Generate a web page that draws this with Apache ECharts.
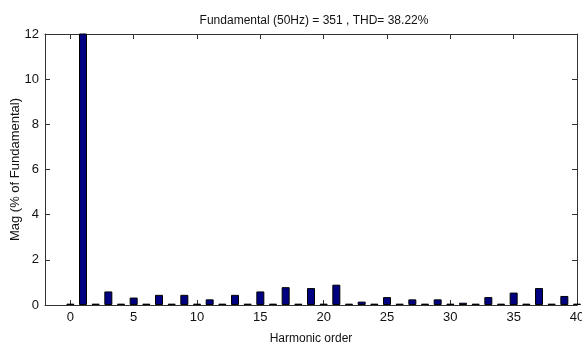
<!DOCTYPE html>
<html>
<head>
<meta charset="utf-8">
<script src="https://cdn.jsdelivr.net/npm/echarts@6/dist/echarts.min.js"></script>
<style>
  html, body { margin: 0; padding: 0; background: #fff; }
  #chart { width: 582px; height: 350px; }
</style>
</head>
<body>
<div id="chart"></div>
<script>
// Harmonic spectrum, magnitude as % of the fundamental (order 1 = 100%)
const harmonicOrders = [0,1,2,3,4,5,6,7,8,9,10,11,12,13,14,15,16,17,18,19,20,
                        21,22,23,24,25,26,27,28,29,30,31,32,33,34,35,36,37,38,39,40];
const magnitudes = [0.06,100,0.06,0.6,0.06,0.33,0.06,0.45,0.06,0.45,0.06,0.25,0.06,0.45,0.06,0.6,
                    0.06,0.79,0.06,0.75,0.06,0.9,0.06,0.15,0.06,0.35,0.06,0.25,0.06,0.25,0.06,
                    0.1,0.06,0.35,0.06,0.55,0.06,0.75,0.06,0.4,0.06];
const xTicks = [0,5,10,15,20,25,30,35,40];
const yTicks = [0,2,4,6,8,10,12];

const titleText = 'Fundamental (50Hz) = 351 , THD= 38.22%';
const xName = 'Harmonic order';
const yName = 'Mag (% of Fundamental)';

const narrow = '"Liberation Sans Narrow", "Liberation Sans", Arial, sans-serif';
const axisColor = '#333';

const chart = echarts.init(document.getElementById('chart'), null, { renderer: 'canvas' });

const tickStyle = { inside: true, length: 5, lineStyle: { color: axisColor, width: 1 } };
const lineStyle = { show: true, onZero: false, lineStyle: { color: axisColor, width: 1 } };

chart.setOption({
  animation: false,
  backgroundColor: '#fff',
  title: {
    text: titleText,
    left: 309, top: 10, textAlign: 'center',
    textStyle: { fontFamily: narrow, fontSize: 12, fontWeight: 'normal', color: '#111' }
  },
  grid: { left: 45, right: 5, top: 34, bottom: 45, containLabel: false, outerBoundsMode: 'none' },
  xAxis: [{
    type: 'value', min: -2, max: 40, position: 'bottom',
    name: xName, nameLocation: 'middle', nameGap: 28, nameMoveOverlap: false,
    nameTextStyle: { fontFamily: narrow, fontSize: 12, color: '#111' },
    axisLine: lineStyle,
    axisTick: Object.assign({ customValues: xTicks, show: true }, tickStyle),
    axisLabel: { customValues: xTicks, fontFamily: narrow, fontSize: 13, color: '#111', margin: 6 },
    splitLine: { show: false }
  }, {
    type: 'value', min: -2, max: 40, position: 'top',
    axisLine: lineStyle,
    axisTick: Object.assign({ customValues: xTicks, show: true }, tickStyle),
    axisLabel: { show: false },
    splitLine: { show: false }
  }],
  yAxis: [{
    type: 'value', min: 0, max: 12, position: 'left',
    name: yName, nameLocation: 'middle', nameGap: 23, nameRotate: 90, nameMoveOverlap: false,
    nameTextStyle: { fontFamily: '"Liberation Sans", Arial, sans-serif', fontSize: 13, color: '#111' },
    axisLine: lineStyle,
    axisTick: Object.assign({ customValues: yTicks, show: true }, tickStyle),
    axisLabel: { customValues: yTicks, fontFamily: narrow, fontSize: 13, color: '#111', margin: 6 },
    splitLine: { show: false }
  }, {
    type: 'value', min: 0, max: 12, position: 'right',
    axisLine: lineStyle,
    axisTick: Object.assign({ customValues: yTicks, show: true }, tickStyle),
    axisLabel: { show: false },
    splitLine: { show: false }
  }],
  series: [{
    type: 'bar',
    xAxisIndex: 0, yAxisIndex: 0,
    barWidth: 8,
    clip: true,
    data: harmonicOrders.map((h, i) => [h, magnitudes[i]]),
    itemStyle: { color: '#000080', borderColor: '#000', borderWidth: 1 }
  }]
});
</script>
</body>
</html>
